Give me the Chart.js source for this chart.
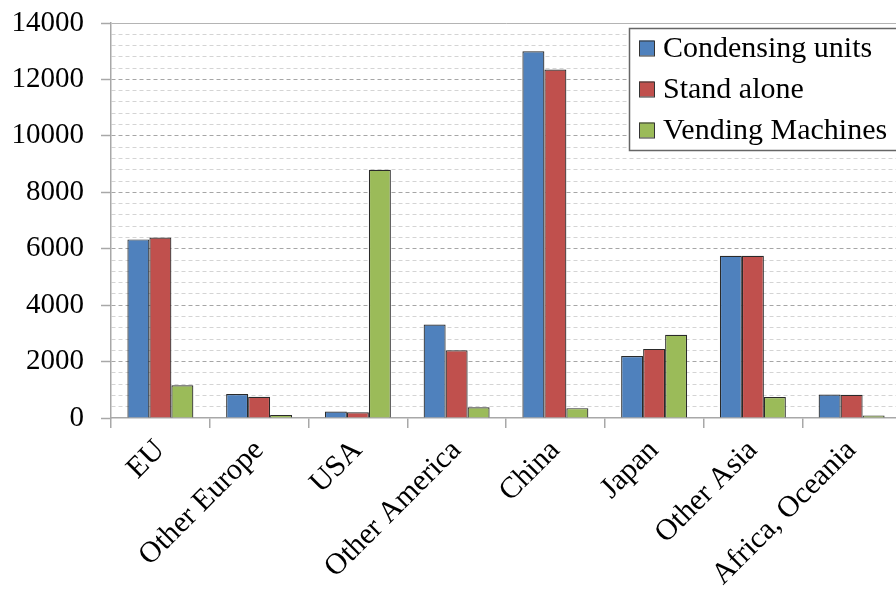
<!DOCTYPE html>
<html>
<head>
<meta charset="utf-8">
<script src="https://cdn.jsdelivr.net/npm/chart.js@4.4.1/dist/chart.umd.min.js"></script>
<style>
  html, body { margin: 0; padding: 0; background: #fff; overflow: hidden; }
  #wrap { width: 896px; height: 591px; overflow: hidden; }
</style>
</head>
<body>
<div id="wrap"><canvas id="chart" width="910" height="591"></canvas></div>
<script>
// ---- Data ----
const regions     = ['EU', 'Other Europe', 'USA', 'Other America', 'China', 'Japan', 'Other Asia', 'Africa, Oceania'];
const condensing  = [6330, 850, 230, 3310, 13000, 2200, 5750, 830];
const standAlone  = [6400, 750, 200, 2400, 12350, 2450, 5750, 820];
const vending     = [1160, 110, 8800, 380, 350, 2950, 740, 90];
const seriesNames = ['Condensing units', 'Stand alone', 'Vending Machines'];

const SERIF = "'Liberation Serif', 'Times New Roman', serif";
const COLORS = ['#4F81BD', '#C0504D', '#9BBB59'];

// legend box drawn inside the plot, top right (like the Excel original)
const boxLegend = {
  id: 'box-legend',
  afterDraw(chart) {
    const { ctx } = chart;
    const x = 629, y = 28, w = 300, h = 122;
    ctx.save();
    ctx.fillStyle = '#fff';
    ctx.fillRect(x, y, w, h);
    ctx.strokeStyle = '#666';
    ctx.lineWidth = 1.5;
    ctx.strokeRect(x + 0.5, y + 0.5, w, h);
    ctx.font = '30px ' + SERIF;
    ctx.textBaseline = 'middle';
    chart.data.datasets.forEach((ds, i) => {
      const cy = 48 + i * 41;
      ctx.fillStyle = ds.backgroundColor;
      ctx.fillRect(639, cy - 7.5, 15, 15);
      ctx.strokeStyle = '#333';
      ctx.lineWidth = 1;
      ctx.strokeRect(639.5, cy - 7, 15, 15);
      ctx.fillStyle = '#000';
      ctx.fillText(ds.label, 663, cy + 1);
    });
    ctx.restore();
  }
};

new Chart(document.getElementById('chart'), {
  type: 'bar',
  data: {
    labels: regions,
    datasets: [condensing, standAlone, vending].map((d, i) => ({
      label: seriesNames[i],
      data: d,
      backgroundColor: COLORS[i],
      borderColor: '#2a2a2a',
      borderWidth: 1.2,
      categoryPercentage: 0.668,
      barPercentage: 1.0,
    }))
  },
  options: {
    responsive: false,
    animation: false,
    layout: { padding: { top: 23, right: 9, left: 0, bottom: 0 } },
    plugins: {
      legend: { display: false },
      tooltip: { enabled: false }
    },
    scales: {
      x: {
        afterFit: s => { s.height = 173; },
        grid: {
          offset: true,
          drawOnChartArea: false,
          drawTicks: true,
          tickLength: 10,
          color: '#a8a8a8',
          lineWidth: 1.5
        },
        border: { color: '#a8a8a8', width: 1.5 },
        ticks: {
          autoSkip: false,
          minRotation: 45,
          maxRotation: 45,
          padding: 5,
          color: '#000',
          font: { family: SERIF, size: 30 }
        }
      },
      y: {
        min: 0,
        max: 14000,
        afterFit: s => { s.width = 111; s.paddingTop = 0; s.paddingBottom = 0; },
        grid: {
          color: ctx => {
            const v = ctx.tick.value;
            if (v === 0) return 'transparent';
            if (v === 14000) return '#b4b4b4';
            return v % 2000 === 0 ? '#a6a6a6' : '#d4d4d4';
          },
          lineWidth: 1,
          tickLength: 10,
          tickColor: ctx => ctx.tick.value % 2000 === 0 ? '#a8a8a8' : 'transparent',
          tickWidth: 1.5
        },
        border: {
          color: '#a8a8a8',
          width: 1.5,
          dash: ctx => ctx.tick && ctx.tick.value === 14000 ? [] : [4, 3]
        },
        ticks: {
          stepSize: 400,
          autoSkip: false,
          padding: 17,
          color: '#000',
          font: { family: SERIF, size: 29 },
          callback: v => v % 2000 === 0 ? String(v) : ''
        }
      }
    }
  },
  plugins: [boxLegend]
});
</script>
</body>
</html>
